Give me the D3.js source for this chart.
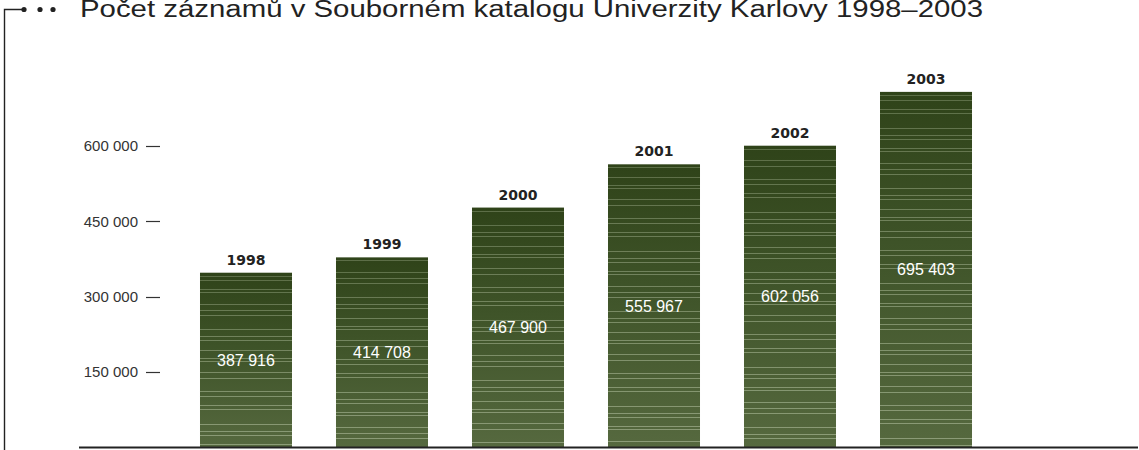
<!DOCTYPE html>
<html>
<head>
<meta charset="utf-8">
<script src="https://cdn.jsdelivr.net/npm/d3@7"></script>
<style>
body { margin: 0; background: #fff; }
svg { display: block; font-family: "Liberation Sans", Arial, sans-serif; }
</style>
</head>
<body>
<svg width="1139" height="450"></svg>
<script>
// data
var years = ["1998", "1999", "2000", "2001", "2002", "2003"];
var recordLabels = ["387 916", "414 708", "467 900", "555 967", "602 056", "695 403"];
// bar heights as drawn against the axis (they do not follow the printed labels exactly)
var barValues = [347500, 378000, 477000, 563000, 600000, 707000];
var yTicks = [150000, 300000, 450000, 600000];
var title = "Počet záznamů v Souborném katalogu Univerzity Karlovy 1998–2003";

var svg = d3.select("svg");

var xScale = d3.scaleBand()
  .domain(years)
  .range([156, 1016])
  .paddingInner(0.3235)
  .paddingOuter(0.3235);

var yScale = d3.scaleLinear()
  .domain([0, 600000])
  .range([447.5, 145.7]);

// gradient for the bars
var defs = svg.append("defs");
var grad = defs.append("linearGradient")
  .attr("id", "barGrad")
  .attr("x1", 0).attr("y1", 0).attr("x2", 0).attr("y2", 1);
grad.append("stop").attr("offset", "0%").attr("stop-color", "#2f4319");
grad.append("stop").attr("offset", "45%").attr("stop-color", "#3f5429");
grad.append("stop").attr("offset", "100%").attr("stop-color", "#56693f");

// title + connector
svg.append("text")
  .attr("x", 80)
  .attr("y", 17)
  .attr("font-size", "23px")
  .attr("fill", "#222")
  .attr("textLength", 903)
  .attr("lengthAdjust", "spacingAndGlyphs")
  .text(title);

svg.append("path")
  .attr("d", "M4.5,450 L4.5,9.5 L24,9.5")
  .attr("fill", "none")
  .attr("stroke", "#222")
  .attr("stroke-width", 1.4);

svg.selectAll("circle.dot")
  .data([24, 40, 53])
  .enter()
  .append("circle")
  .attr("class", "dot")
  .attr("cx", function(d) { return d; })
  .attr("cy", 9.5)
  .attr("r", 2.6)
  .attr("fill", "#222");

// y ticks
var yAxis = svg.append("g");
yAxis.selectAll("text")
  .data(yTicks)
  .enter()
  .append("text")
  .attr("x", 138)
  .attr("y", function(d) { return yScale(d); })
  .attr("dy", "0.36em")
  .attr("text-anchor", "end")
  .attr("font-size", "15px")
  .attr("fill", "#333")
  .text(function(d) { return d3.format(",")(d).replace(/,/g, " "); });

yAxis.selectAll("line")
  .data(yTicks)
  .enter()
  .append("line")
  .attr("x1", 146)
  .attr("x2", 160)
  .attr("y1", function(d) { return Math.round(yScale(d)) + 0.5; })
  .attr("y2", function(d) { return Math.round(yScale(d)) + 0.5; })
  .attr("stroke", "#333")
  .attr("stroke-width", 1.2);

// bars
var stripeGaps = [4, 9, 3, 12, 6, 5, 14, 7, 4, 10, 8, 3, 11, 6, 13, 5, 9, 4, 15, 7];

var bars = svg.append("g").selectAll("g")
  .data(years)
  .enter()
  .append("g");

bars.append("rect")
  .attr("x", function(d) { return xScale(d); })
  .attr("y", function(d, i) { return yScale(barValues[i]); })
  .attr("width", xScale.bandwidth())
  .attr("height", function(d, i) { return yScale(0) - yScale(barValues[i]); })
  .attr("fill", "url(#barGrad)");

// light horizontal streaks inside each bar
bars.each(function(d, i) {
  var top = yScale(barValues[i]);
  var bottom = yScale(0);
  var ys = [];
  var y = top + 3;
  var k = i * 3;
  while (y < bottom - 1) {
    ys.push(Math.round(y) + 0.5);
    y += stripeGaps[k % stripeGaps.length];
    k++;
  }
  d3.select(this).selectAll("line")
    .data(ys)
    .enter()
    .append("line")
    .attr("x1", xScale(d))
    .attr("x2", xScale(d) + xScale.bandwidth())
    .attr("y1", function(v) { return v; })
    .attr("y2", function(v) { return v; })
    .attr("stroke", "#92a27e")
    .attr("stroke-opacity", function(v) { return 0.45 + 0.45 * (v - top) / (bottom - top); })
    .attr("stroke-width", 1);
});

// year labels
bars.append("text")
  .attr("x", function(d) { return xScale(d) + xScale.bandwidth() / 2; })
  .attr("y", function(d, i) { return yScale(barValues[i]) - 8; })
  .attr("text-anchor", "middle")
  .attr("font-family", "'DejaVu Sans', sans-serif")
  .attr("font-weight", "bold")
  .attr("font-size", "14px")
  .attr("fill", "#222")
  .text(function(d) { return d; });

// value labels
bars.append("text")
  .attr("x", function(d) { return xScale(d) + xScale.bandwidth() / 2; })
  .attr("y", function(d, i) { return (yScale(barValues[i]) + yScale(0)) / 2; })
  .attr("dy", "0.36em")
  .attr("text-anchor", "middle")
  .attr("font-size", "16px")
  .attr("fill", "#fff")
  .text(function(d, i) { return recordLabels[i]; });

// baseline
svg.append("line")
  .attr("x1", 79)
  .attr("x2", 1138)
  .attr("y1", 447.5)
  .attr("y2", 447.5)
  .attr("stroke", "#222")
  .attr("stroke-width", 2);
</script>
</body>
</html>
